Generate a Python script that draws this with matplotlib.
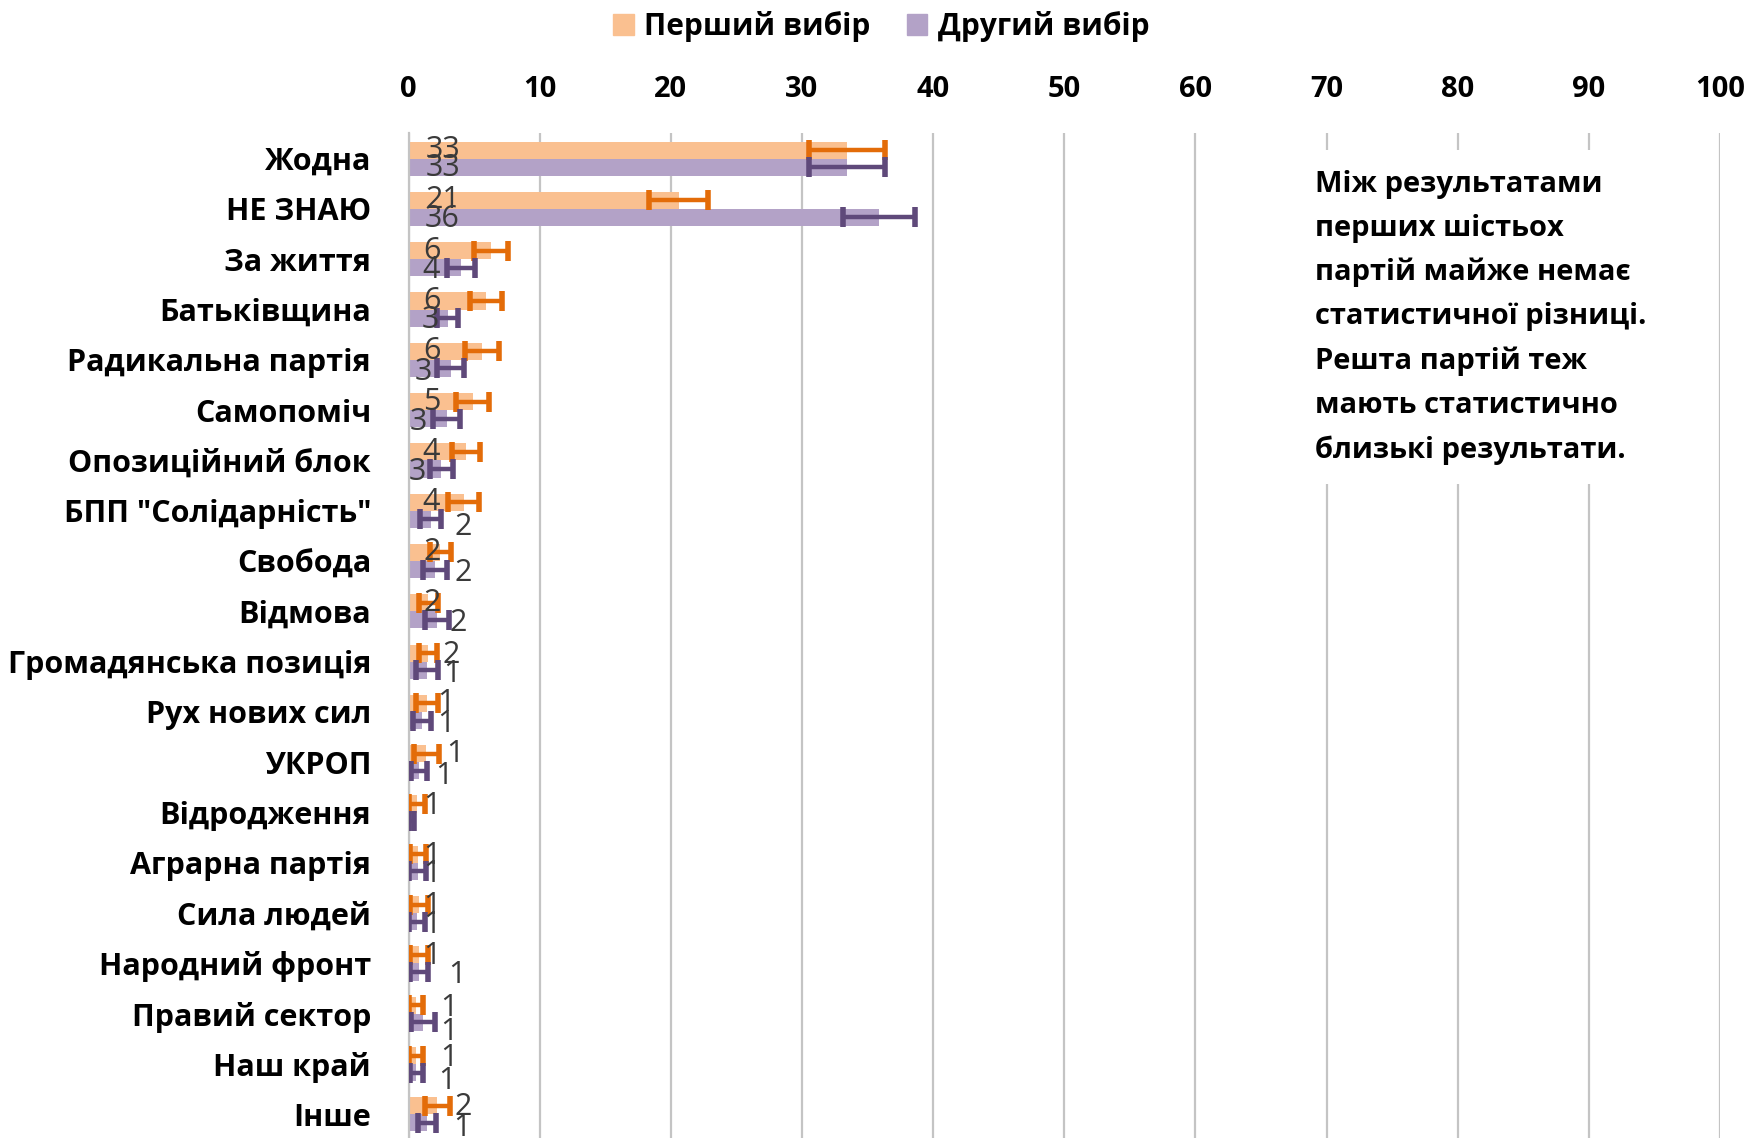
import matplotlib
matplotlib.use("Agg")
import matplotlib.pyplot as plt
from matplotlib.patches import Patch
import numpy as np

plt.rcParams['font.family'] = ['Open Sans', 'DejaVu Sans']
plt.rcParams['font.weight'] = 'bold'

# data (percent)
parties = ['Жодна', 'НЕ ЗНАЮ', 'За життя', 'Батьківщина', 'Радикальна партія',
           'Самопоміч', 'Опозиційний блок', 'БПП "Солідарність"', 'Свобода',
           'Відмова', 'Громадянська позиція', 'Рух нових сил', 'УКРОП',
           'Відродження', 'Аграрна партія', 'Сила людей', 'Народний фронт',
           'Правий сектор', 'Наш край', 'Інше']
first_choice = [33.4, 20.6, 6.3, 5.9, 5.6, 4.9, 4.4, 4.2, 2.4, 1.5,
                1.5, 1.4, 1.35, 0.65, 0.7, 0.8, 0.78, 0.6, 0.6, 2.2]
first_err = [2.9, 2.25, 1.3, 1.2, 1.3, 1.25, 1.05, 1.2, 0.8, 0.72,
             0.7, 0.85, 0.95, 0.6, 0.62, 0.72, 0.7, 0.53, 0.53, 0.95]
second_choice = [33.4, 35.9, 4.0, 3.0, 3.2, 2.9, 2.5, 1.7, 2.0, 2.2,
                 1.4, 1.0, 0.8, 0.25, 0.7, 0.66, 0.8, 1.1, 0.6, 1.4]
second_err = [2.9, 2.75, 1.05, 0.8, 1.0, 1.05, 0.87, 0.8, 0.93, 0.92,
              0.87, 0.7, 0.64, 0.2, 0.63, 0.6, 0.72, 0.9, 0.5, 0.66]
first_labels = ['33', '21', '6', '6', '6', '5', '4', '4', '2', '2',
                '2', '1', '1', '1', '1', '1', '1', '1', '1', '2']
second_labels = ['33', '36', '4', '3', '3', '3', '3', '2', '2', '2',
                 '1', '1', '1', '', '1', '1', '1', '1', '1', '1']
xticks = list(range(0, 101, 10))
note = ('Між результатами\nперших шістьох\nпартій майже немає\n'
        'статистичної різниці.\nРешта партій теж\nмають статистично\n'
        'близькі результати.')

# label placement (pixels from the axis / bar centre), as Excel left them
first_dx = [34, 34, 23, 23, 23, 23, 23, 23, 24, 24,
            43, 37, 46, 23, 23, 23, 23, 40, 40, 55]
first_dy = [0, 0, 0, 0, 0, 0, 0, 0, 0, 0,
            2, 0, 0, 2, 2, 1, 1, 3, 2, 1]
second_dx = [34, 34, 23, 22, 15, 10, 9, 55, 55, 50,
             43, 37, 35, 23, 23, 23, 48, 40, 38, 53]
second_dy = [1, 2, 2, 2, 4, 3, 3, 8, 3, 3,
             4, 3, 5, 0, 3, 3, 3, 10, 8, 5]

c_first, c_first_err = '#FAC090', '#E36C09'
c_second, c_second_err = '#B3A2C7', '#5F497A'
grid_c = '#C4C4C4'
fs = 21

fig = plt.figure(figsize=(17.52, 11.38), dpi=100)
ax = fig.add_axes([0.2332, 0.0, 0.9817 - 0.2332, 0.8827])

y = np.arange(len(parties))
h = 0.34
ax.barh(y - h / 2, first_choice, height=h, color=c_first, zorder=2)
ax.barh(y + h / 2, second_choice, height=h, color=c_second, zorder=2)
ax.errorbar(first_choice, y - h / 2, xerr=first_err, fmt='none', ecolor=c_first_err,
            elinewidth=3.2, capsize=7, capthick=4, zorder=3)
ax.errorbar(second_choice, y + h / 2, xerr=second_err, fmt='none', ecolor=c_second_err,
            elinewidth=3.2, capsize=7, capthick=4, zorder=3)

for i in range(len(parties)):
    ax.annotate(first_labels[i], (0, y[i] - h / 2), xytext=(first_dx[i], -first_dy[i]),
                textcoords='offset pixels', ha='center', va='center',
                fontsize=22, fontweight='normal', color='#3A3A3A', zorder=4)
    if second_labels[i]:
        ax.annotate(second_labels[i], (0, y[i] + h / 2), xytext=(second_dx[i], -second_dy[i]),
                    textcoords='offset pixels', ha='center', va='center',
                    fontsize=22, fontweight='normal', color='#3A3A3A', zorder=4)

ax.set_xlim(0, 100)
ax.set_ylim(19.47, -0.5)
ax.set_xticks(xticks)
ax.xaxis.tick_top()
ax.tick_params(axis='x', length=0, pad=21.5, labelsize=fs)
ax.set_yticks(y)
ax.set_yticklabels(parties)
ax.tick_params(axis='y', length=0, pad=27, labelsize=22)
for lab in ax.get_xticklabels() + ax.get_yticklabels():
    lab.set_fontweight('bold')
ax.grid(axis='x', color=grid_c, linewidth=1.6, zorder=0)
ax.set_axisbelow(True)
for s in ['top', 'right', 'bottom']:
    ax.spines[s].set_visible(False)
ax.spines['left'].set_color(grid_c)
ax.spines['left'].set_linewidth(1.6)

fig.text(0.7505, 0.851, note, ha='left', va='top', fontsize=21, fontweight='bold',
         linespacing=1.68, zorder=5,
         bbox=dict(facecolor='white', edgecolor='none', pad=14))

handles = [Patch(color=c_first), Patch(color=c_second)]
fig.legend(handles, ['Перший вибір', 'Другий вибір'], loc='center',
           bbox_to_anchor=(0.503, 0.977), ncol=2, frameon=False,
           handlelength=0.7, handleheight=0.7, handletextpad=0.35, columnspacing=1.2,
           prop={'weight': 'bold', 'size': 21.5})

fig.savefig('out.png', dpi=100)
